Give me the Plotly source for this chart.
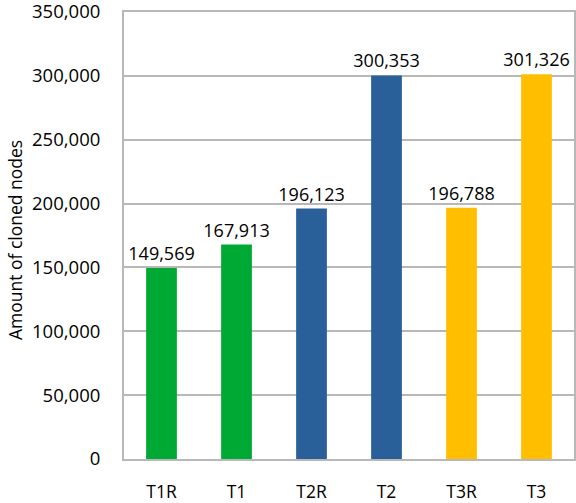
import plotly.graph_objects as go

categories = ["T1R", "T1", "T2R", "T2", "T3R", "T3"]
values = [149569, 167913, 196123, 300353, 196788, 301326]
colors = ["#00a933", "#00a933", "#2a6099", "#2a6099", "#ffbf00", "#ffbf00"]
tick_vals = [0, 50000, 100000, 150000, 200000, 250000, 300000, 350000]
tick_text = ["0", "50,000", "100,000", "150,000", "200,000", "250,000", "300,000", "350,000"]
y_title = "Amount of cloned nodes"

fig = go.Figure(go.Bar(
    x=categories, y=values, marker_color=colors, marker_line_width=0,
    text=[f"{v:,}" for v in values], textposition="outside",
    constraintext="none",
    textfont=dict(size=18, color="#000000"), cliponaxis=False,
))
fig.update_layout(
    width=576, height=503,
    margin=dict(l=124, r=2, t=12, b=44, autoexpand=False),
    plot_bgcolor="white", paper_bgcolor="white",
    font=dict(family="Open Sans, Liberation Sans, sans-serif", size=18, color="#000000"),
    bargap=0.59, showlegend=False,
)
fig.update_yaxes(
    range=[0, 350000], tickvals=tick_vals, ticktext=tick_text,
    showgrid=True, gridcolor="#b8b8b8", gridwidth=1.5,
    showline=True, linecolor="#b8b8b8", linewidth=2, mirror=True,
    ticks="", ticklabelstandoff=18, zeroline=False, ticklabeloverflow="allow",
    tickfont=dict(size=18.5), automargin=False,
)
fig.update_xaxes(
    showline=True, linecolor="#b8b8b8", linewidth=2, mirror=True,
    ticks="", ticklabelstandoff=16, automargin=False, tickfont=dict(size=17.5),
)
fig.add_annotation(
    text=y_title, xref="paper", yref="paper", x=-0.242, y=0.49,
    xanchor="center", yanchor="middle", textangle=-90, showarrow=False,
    font=dict(size=17.5, color="#000000"),
)
fig.write_html("out.html", config={"displayModeBar": False},
               post_script="document.body.style.margin='0';")
